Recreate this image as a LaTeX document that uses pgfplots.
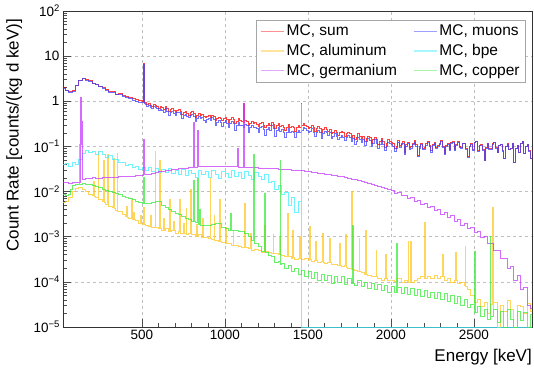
\documentclass[border=0pt]{standalone}
\usepackage{pgfplots}
\pgfplotsset{compat=1.18}
\usepackage{pgfplotstable}
\usepackage{fontspec}
\setmainfont{Liberation Sans}

% power-of-ten tick labels in the text font
\newcommand{\pw}[1]{10\raisebox{0.75ex}{\fontsize{9.5}{10}\selectfont #1}}

\definecolor{cSum}{rgb}{1,0,0}
\definecolor{cMu}{rgb}{0.25,0.25,1}
\definecolor{cAl}{rgb}{1,0.78,0.15}
\definecolor{cBpe}{rgb}{0.25,0.93,1}
\definecolor{cGe}{rgb}{0.78,0.22,1}
\definecolor{cCu}{rgb}{0.22,0.92,0.22}
% pale tones for the legend samples
\definecolor{lSum}{rgb}{1,0.42,0.42}
\definecolor{lMu}{rgb}{0.5,0.5,1}
\definecolor{lAl}{rgb}{1,0.86,0.5}
\definecolor{lBpe}{rgb}{0.55,0.96,1}
\definecolor{lGe}{rgb}{0.86,0.55,1}
\definecolor{lCu}{rgb}{0.55,0.95,0.55}

% simulated spectra, bin start energy [keV] and rate [counts/(kg d keV)]
\pgfplotstableread{
E sum mu
20 2.00 1.95
40 1.79 1.73
60 1.62 1.57
80 1.71 1.66
100 2.27 2.20
120 2.92 2.84
140 3.30 3.17
160 3.08 2.98
180 2.88 2.79
200 2.55 2.46
220 2.42 2.33
240 2.19 2.10
260 2.07 1.98
280 1.86 1.78
300 1.68 1.60
320 1.66 1.57
340 1.46 1.39
360 1.50 1.42
380 1.37 1.29
400 1.31 1.22
420 1.24 1.16
440 1.15 1.07
460 1.11 1.02
480 1.03 0.96
500 1.02 0.94
510 7.10 6.60
514 0.97 0.90
520 0.93 0.85
530 0.86 0.78
540 0.90 0.81
550 0.82 0.74
560 0.78 0.70
570 0.84 0.76
580 0.83 0.74
590 0.76 0.68
600 0.71 0.62
610 0.76 0.67
620 0.72 0.64
630 0.66 0.58
640 0.77 0.68
650 0.69 0.61
660 0.60 0.50
670 0.65 0.57
680 0.69 0.61
690 0.62 0.54
700 0.58 0.49
710 0.64 0.56
720 0.66 0.58
730 0.59 0.51
740 0.51 0.41
750 0.57 0.49
760 0.60 0.52
770 0.55 0.47
780 0.50 0.43
790 0.56 0.49
800 0.59 0.51
810 0.54 0.46
820 0.45 0.36
830 0.49 0.42
840 0.54 0.47
850 0.50 0.42
860 0.51 0.43
870 0.46 0.38
880 0.43 0.34
890 0.47 0.40
900 0.49 0.41
910 0.44 0.37
920 0.50 0.43
930 0.46 0.39
940 0.38 0.29
950 0.42 0.35
960 0.45 0.38
970 0.41 0.34
980 0.37 0.28
990 0.41 0.34
1000 0.44 0.37
1010 0.40 0.33
1020 0.35 0.27
1030 0.39 0.32
1040 0.43 0.36
1050 0.39 0.32
1060 0.32 0.23
1070 0.36 0.29
1080 0.41 0.34
1090 0.37 0.30
1100 0.36 0.29
1110 0.34 0.27
1114 0.92 0.27
1118 0.34 0.27
1120 0.38 0.31
1130 0.36 0.29
1140 0.29 0.21
1150 0.33 0.27
1160 0.36 0.30
1170 0.32 0.26
1180 0.34 0.27
1190 0.31 0.25
1200 0.28 0.20
1210 0.32 0.26
1220 0.34 0.28
1230 0.30 0.24
1240 0.26 0.18
1250 0.30 0.24
1260 0.33 0.27
1270 0.29 0.23
1280 0.35 0.29
1290 0.31 0.25
1300 0.25 0.17
1310 0.29 0.23
1320 0.32 0.26
1330 0.28 0.22
1340 0.30 0.24
1350 0.26 0.20
1360 0.23 0.16
1370 0.27 0.21
1380 0.31 0.25
1390 0.27 0.21
1400 0.28 0.22
1410 0.26 0.20
1420 0.22 0.16
1430 0.26 0.20
1440 0.29 0.23
1450 0.27 0.21
1458 0.91 0.21
1462 0.29 0.23
1470 0.32 0.27
1480 0.30 0.25
1490 0.28 0.23
1500 0.25 0.20
1510 0.27 0.22
1520 0.30 0.25
1530 0.26 0.21
1540 0.22 0.17
1550 0.25 0.20
1560 0.28 0.23
1570 0.25 0.20
1580 0.20 0.15
1590 0.24 0.19
1600 0.26 0.22
1610 0.24 0.20
1620 0.22 0.18
1630 0.24 0.20
1640 0.19 0.15
1650 0.21 0.17
1660 0.23 0.19
1670 0.21 0.17
1680 0.18 0.14
1690 0.20 0.16
1700 0.22 0.18
1710 0.20 0.16
1720 0.17 0.135
1730 0.19 0.155
1740 0.21 0.175
1750 0.19 0.155
1760 0.16 0.13
1770 0.18 0.15
1780 0.14 0.11
1790 0.16 0.13
1800 0.19 0.16
1810 0.17 0.14
1820 0.15 0.125
1830 0.17 0.145
1840 0.13 0.108
1850 0.15 0.128
1860 0.17 0.148
1870 0.16 0.138
1880 0.12 0.10
1890 0.14 0.12
1900 0.16 0.14
1910 0.14 0.12
1920 0.11 0.092
1930 0.13 0.112
1940 0.15 0.133
1950 0.13 0.113
1960 0.095 0.081
1970 0.115 0.10
1980 0.14 0.125
1990 0.13 0.115
2000 0.125 0.112
2010 0.115 0.102
2020 0.09 0.079
2030 0.10 0.089
2040 0.135 0.123
2050 0.105 0.094
2060 0.12 0.109
2070 0.13 0.119
2080 0.075 0.067
2090 0.11 0.101
2100 0.125 0.115
2110 0.095 0.087
2120 0.10 0.092
2130 0.12 0.112
2140 0.135 0.126
2150 0.11 0.102
2160 0.065 0.059
2170 0.10 0.093
2180 0.12 0.112
2190 0.09 0.084
2200 0.095 0.088
2210 0.115 0.108
2220 0.13 0.122
2230 0.105 0.098
2240 0.08 0.074
2250 0.11 0.104
2260 0.125 0.118
2270 0.095 0.089
2280 0.105 0.099
2290 0.12 0.114
2300 0.135 0.128
2310 0.10 0.095
2320 0.07 0.066
2330 0.105 0.10
2340 0.115 0.11
2350 0.085 0.081
2360 0.125 0.12
2370 0.13 0.125
2380 0.085 0.081
2390 0.11 0.106
2400 0.13 0.126
2410 0.10 0.097
2420 0.095 0.092
2430 0.12 0.117
2440 0.12 0.117
2450 0.09 0.088
2460 0.06 0.058
2470 0.10 0.098
2480 0.115 0.112
2490 0.085 0.083
2500 0.125 0.122
2510 0.13 0.127
2520 0.08 0.078
2530 0.105 0.103
2540 0.11 0.108
2550 0.085 0.083
2560 0.05 0.049
2570 0.095 0.093
2580 0.12 0.118
2590 0.09 0.088
2600 0.09 0.088
2610 0.115 0.113
2620 0.125 0.123
2630 0.095 0.093
2640 0.075 0.074
2650 0.105 0.104
2660 0.11 0.109
2670 0.08 0.079
2680 0.055 0.054
2690 0.10 0.099
2700 0.115 0.114
2710 0.085 0.084
2720 0.09 0.089
2730 0.12 0.119
2740 0.045 0.045
2750 0.09 0.089
2760 0.105 0.104
2770 0.075 0.074
2780 0.12 0.119
2790 0.13 0.129
2800 0.07 0.069
2810 0.10 0.099
2820 0.11 0.109
2830 0.08 0.079
2840 0.055 0.055
2850 0.10 0.099
2860 0.10 0.099
}\tabSum

\pgfplotstableread{
E v
20 0.0058
40 0.0062
60 0.0074
80 0.0100
100 0.0118
120 0.0122
140 0.0112
160 0.0101
180 0.0089
200 0.0081
210 0.0166
214 0.0079
220 0.0074
236 0.078
240 0.0067
260 0.0061
268 0.050
272 0.0058
280 0.0052
294 0.066
298 0.0050
300 0.0047
320 0.0045
328 0.055
332 0.0043
340 0.0038
350 0.070
354 0.0037
360 0.0036
380 0.0031
400 0.0028
408 0.0047
412 0.0027
420 0.0025
438 0.0066
442 0.0024
450 0.0035
454 0.0024
460 0.0023
480 0.0020
490 0.0030
494 0.0020
500 0.0019
510 0.0045
514 0.0019
520 0.0018
540 0.0017
552 0.0030
556 0.0017
560 0.0016
580 0.078
584 0.0016
600 0.0015
608 0.050
612 0.0015
620 0.0014
630 0.0026
634 0.0014
640 0.0015
660 0.0013
668 0.0066
672 0.0013
680 0.0014
690 0.0022
694 0.0014
700 0.0012
720 0.0013
726 0.0066
730 0.0012
740 0.0012
750 0.0020
754 0.0012
760 0.0012
766 0.0043
770 0.0011
780 0.0012
794 0.011
798 0.0011
800 0.0011
820 0.0010
830 0.0019
834 0.0010
840 0.0011
860 0.00098
864 0.0026
868 0.00098
880 0.00095
900 0.00092
910 0.020
914 0.00090
920 0.00088
934 0.0030
938 0.00085
940 0.00085
960 0.00080
968 0.0066
972 0.00078
980 0.00076
1000 0.00072
1002 0.0016
1006 0.00072
1020 0.00070
1040 0.00066
1050 0.0014
1054 0.00066
1060 0.00064
1080 0.00060
1100 0.00058
1120 0.0056
1124 0.00057
1140 0.00055
1156 0.0012
1160 0.00050
1180 0.00052
1200 0.00049
1220 0.00046
1238 0.0018
1242 0.00047
1260 0.00044
1280 0.00042
1290 0.0011
1294 0.00042
1300 0.00043
1320 0.00040
1330 0.0010
1334 0.00040
1340 0.00038
1360 0.00037
1376 0.0033
1380 0.00036
1400 0.00034
1408 0.0014
1412 0.00035
1420 0.00032
1440 0.00033
1448 0.0010
1452 0.00033
1460 0.00031
1480 0.00033
1500 0.00030
1508 0.0017
1512 0.00031
1520 0.00029
1540 0.00030
1548 0.0008
1552 0.00030
1560 0.00027
1580 0.00028
1588 0.0012
1592 0.00027
1600 0.00026
1620 0.00027
1630 0.0009
1634 0.00027
1640 0.00024
1660 0.00025
1680 0.00023
1690 0.0007
1694 0.00023
1700 0.00022
1720 0.00023
1728 0.0011
1732 0.00021
1740 0.00020
1760 0.00019
1764 0.010
1768 0.00019
1780 0.00018
1800 0.00017
1808 0.0009
1812 0.00017
1820 0.00016
1840 0.00015
1846 0.0014
1850 0.00015
1860 0.00014
1880 0.00013
1900 0.00013
1910 0.0005
1914 0.00013
1920 0.00012
1940 0.00011
1960 0.00012
1968 0.0004
1972 0.00012
1980 0.00011
2000 0.00011
2020 0.000105
2040 0.00012
2060 0.00010
2080 0.00011
2100 0.00010
2104 0.00077
2108 0.00010
2118 0.00077
2122 0.00010
2140 0.00011
2160 0.00012
2180 0.00013
2200 0.00012
2204 0.0021
2208 0.00012
2220 0.00013
2240 0.00012
2260 0.00014
2280 0.00012
2300 0.00013
2310 0.0004
2314 0.00013
2320 0.00011
2340 0.00012
2360 0.00010
2380 0.00011
2390 0.00045
2394 0.00011
2400 0.000095
2420 0.00010
2440 0.000085
2446 0.0006
2450 0.00008
2460 0.00007
2480 0.00005
2500 0.000035
2520 0.00004
2540 0.000028
2560 0.000035
2580 0.00002
2600 0.000032
2612 0.0045
2616 0.000025
2620 0.000035
2640 0.00001
2660 0.00003
2680 0.000022
2700 0.000038
2720 0.000025
2740 0.00001
2760 0.00003
2780 0.000028
2800 0.00002
2820 0.000033
2840 0.000022
2860 0.000022
}\tabAl

\pgfplotstableread{
E v
20 0.040
40 0.043
60 0.036
80 0.045
100 0.040
120 0.052
140 0.072
160 0.080
180 0.075
200 0.078
220 0.068
240 0.076
260 0.066
280 0.058
300 0.064
320 0.052
340 0.053
360 0.045
380 0.044
400 0.038
420 0.040
440 0.034
460 0.037
480 0.031
500 0.035
520 0.030
540 0.034
560 0.028
580 0.032
600 0.026
620 0.031
640 0.027
660 0.032
680 0.025
700 0.030
720 0.024
740 0.031
760 0.023
780 0.029
800 0.025
820 0.021
840 0.029
860 0.024
880 0.028
900 0.021
920 0.029
940 0.024
960 0.020
980 0.028
1000 0.025
1020 0.021
1040 0.029
1060 0.022
1080 0.027
1100 0.020
1120 0.028
1140 0.023
1160 0.019
1180 0.027
1200 0.022
1220 0.019
1240 0.024
1260 0.016
1280 0.017
1300 0.011
1320 0.014
1340 0.0085
1360 0.0095
1380 0.0050
1400 0.0075
1420 0.0035
1440 0.0062
1458 0.85
1462 0.00001
2860 0.00001
}\tabBpe

\pgfplotstableread{
E v
20 0.0158
40 0.0161
60 0.0154
80 0.0157
100 0.0161
120 0.0163
132 1.20
136 0.11
140 0.36
144 0.0190
160 0.0192
180 0.0198
200 0.0207
220 0.0200
240 0.0197
260 0.0203
280 0.0205
300 0.0209
320 0.0208
340 0.0211
360 0.0212
380 0.0216
400 0.0218
420 0.0221
440 0.0222
460 0.0227
480 0.0229
500 0.0233
510 0.14
514 0.0235
520 0.0238
540 0.0246
560 0.0254
580 0.0266
600 0.0274
620 0.0284
640 0.0291
660 0.0301
680 0.0307
700 0.0316
720 0.0321
740 0.0331
760 0.0334
780 0.0343
800 0.0346
810 0.34
814 0.0350
820 0.0352
834 0.23
838 0.0356
840 0.0357
860 0.0363
880 0.0364
900 0.0368
920 0.0364
940 0.0369
960 0.0362
980 0.0363
1000 0.0359
1020 0.0358
1040 0.0354
1060 0.0354
1076 0.090
1080 0.0349
1100 0.0349
1114 0.91
1118 0.0346
1120 0.0345
1140 0.0344
1160 0.0339
1180 0.0339
1200 0.0335
1220 0.0334
1240 0.0329
1260 0.0328
1280 0.0323
1300 0.0321
1320 0.0316
1340 0.0314
1360 0.0309
1380 0.0307
1400 0.0301
1420 0.0298
1440 0.0292
1460 0.0289
1480 0.0282
1500 0.0279
1520 0.0271
1540 0.0267
1560 0.0259
1580 0.0255
1600 0.0246
1620 0.0241
1640 0.0233
1660 0.0228
1680 0.0219
1700 0.0214
1720 0.0205
1740 0.0200
1760 0.0191
1780 0.0186
1800 0.0177
1820 0.0171
1840 0.0161
1860 0.0156
1880 0.0145
1900 0.0140
1920 0.0130
1940 0.0125
1960 0.0116
1980 0.0111
2000 0.0108
2020 0.0093
2040 0.0096
2060 0.0081
2080 0.0084
2100 0.0071
2120 0.0074
2140 0.0061
2160 0.0064
2180 0.0053
2200 0.0055
2220 0.0045
2240 0.0047
2260 0.0038
2280 0.0041
2300 0.0032
2320 0.0034
2340 0.0027
2360 0.0029
2380 0.0022
2400 0.0024
2420 0.0018
2440 0.0020
2460 0.0015
2480 0.0016
2500 0.00125
2520 0.00130
2540 0.00095
2560 0.00100
2580 0.00072
2600 0.00073
2620 0.00050
2640 0.00051
2660 0.00033
2680 0.00034
2700 0.00020
2720 0.00022
2740 0.00011
2760 0.00014
2780 0.000068
2800 0.000075
2820 0.000030
2840 0.000026
2860 0.000026
}\tabGe

\pgfplotstableread{
E v
20 0.0089
40 0.0083
60 0.0085
70 0.0112
80 0.0138
100 0.0145
120 0.0148
122 0.11
126 0.0148
140 0.0149
160 0.0147
180 0.0145
200 0.0138
220 0.0131
240 0.0121
260 0.0114
280 0.0106
300 0.0100
320 0.0095
340 0.0090
360 0.0086
380 0.0080
400 0.0074
420 0.0070
440 0.0066
460 0.0062
480 0.0057
500 0.0054
510 0.021
514 0.0054
520 0.0054
540 0.0055
560 0.0058
580 0.0060
600 0.0060
620 0.0050
640 0.0045
660 0.0040
680 0.0037
700 0.0033
720 0.0031
740 0.0028
760 0.0026
780 0.0024
800 0.0022
810 0.018
814 0.0022
820 0.0021
834 0.020
838 0.0020
840 0.0019
846 0.0040
850 0.0018
860 0.0018
880 0.0018
900 0.0018
920 0.0019
940 0.0020
960 0.0020
980 0.0016
1000 0.0015
1020 0.0014
1034 0.0033
1038 0.0014
1040 0.0014
1060 0.0014
1080 0.0013
1100 0.0013
1120 0.0012
1140 0.0010
1160 0.00085
1172 0.066
1176 0.00075
1180 0.00070
1200 0.00062
1220 0.00048
1238 0.0090
1242 0.00046
1260 0.00038
1280 0.00036
1300 0.00027
1320 0.00028
1332 0.050
1336 0.00024
1340 0.00026
1360 0.00020
1380 0.00023
1400 0.00017
1420 0.00020
1440 0.00015
1460 0.00018
1480 0.00013
1500 0.00017
1520 0.00012
1540 0.00016
1560 0.00011
1580 0.00015
1600 0.00011
1620 0.00014
1640 0.000095
1660 0.00013
1680 0.000098
1700 0.00013
1720 0.000088
1740 0.00012
1760 0.000092
1770 0.0018
1774 0.000092
1780 0.000085
1800 0.00011
1820 0.000078
1840 0.00010
1860 0.000072
1880 0.000095
1900 0.000068
1920 0.000090
1940 0.000064
1960 0.000085
1980 0.000060
2000 0.000080
2020 0.000058
2034 0.00070
2038 0.000058
2040 0.000076
2060 0.000055
2080 0.000074
2100 0.000052
2120 0.000071
2140 0.000050
2160 0.000068
2180 0.000047
2200 0.000064
2220 0.000045
2240 0.000060
2260 0.000043
2280 0.000058
2300 0.000040
2320 0.000055
2340 0.000037
2360 0.000050
2380 0.000034
2400 0.000047
2420 0.000030
2440 0.000042
2460 0.000027
2480 0.000032
2500 0.000021
2504 0.00047
2508 0.000021
2520 0.000029
2540 0.000017
2560 0.000025
2580 0.000015
2598 0.0010
2602 0.000017
2620 0.000024
2640 0.000013
2660 0.000022
2680 0.00001
2700 0.000024
2720 0.000015
2740 0.00001
2760 0.000022
2780 0.000014
2800 0.000021
2820 0.00001
2840 0.000019
2860 0.000019
}\tabCu

\begin{document}
\begin{tikzpicture}
\begin{axis}[
  name=main,
  scale only axis, width=469pt, height=316pt,
  ymode=log, xmin=25, xmax=2850, ymin=1e-5, ymax=100,
  axis line style={black!80, line width=0.8pt},
  tick align=inside, tick pos=left,
  major tick length=8pt, minor tick length=4pt,
  tick style={black!70, line width=0.6pt},
  xtick={500,1000,1500,2000,2500},
  xticklabels={500,1000,1500,2000,2500},
  minor x tick num=4,
  ytick={1e-5,1e-4,1e-3,1e-2,1e-1,1,10,100},
  yticklabels={\pw{−5},\pw{−4},\pw{−3},\pw{−2},\pw{−1},1,10,\pw{2}},
  grid=major,
  major grid style={gray!50, dash pattern=on 3pt off 3pt, line width=0.6pt},
  ticklabel style={font=\fontsize{13.5}{14}\selectfont},
  xlabel={Energy [keV]},
  ylabel={Count Rate [counts/(kg d keV)]},
  label style={font=\fontsize{17}{18}\selectfont},
  xlabel style={at={(axis description cs:1,0)}, anchor=north east, yshift=-22pt, inner sep=0pt},
  ylabel style={at={(axis description cs:-0.1215,0.975)}, anchor=north east, inner sep=0pt},
  legend columns=2, legend cell align=left,
  legend style={at={(0.987,0.972)}, anchor=north east, draw=gray!70, line width=0.6pt,
    font=\fontsize{15.5}{17}\selectfont, inner xsep=4pt, inner ysep=3pt, row sep=3pt,
    /tikz/every even column/.append style={column sep=14pt}},
  legend image code/.code={\path[draw=#1, line width=1.5pt] (0pt,0pt) -- (23pt,0pt);},
  every axis plot/.append style={const plot, line width=0.7pt, opacity=0.75},
]
\addlegendimage{lSum}
\addlegendentry{MC, sum}
\addlegendimage{lMu}
\addlegendentry{MC, muons}
\addlegendimage{lAl}
\addlegendentry{MC, aluminum}
\addlegendimage{lBpe}
\addlegendentry{MC, bpe}
\addlegendimage{lGe}
\addlegendentry{MC, germanium}
\addlegendimage{lCu}
\addlegendentry{MC, copper}

\addplot[cSum, forget plot] table[x=E, y=sum] {\tabSum};
\addplot[cMu, forget plot] table[x=E, y=mu] {\tabSum};
\addplot[cAl, forget plot] table[x=E, y=v] {\tabAl};
\addplot[cBpe, forget plot] table[x=E, y=v] {\tabBpe};
\addplot[cGe, forget plot] table[x=E, y=v] {\tabGe};
\addplot[cCu, forget plot] table[x=E, y=v] {\tabCu};
\end{axis}
\pgfresetboundingbox
\path[use as bounding box] ([xshift=-63pt,yshift=-47pt]main.south west)
  rectangle ([xshift=2pt,yshift=11pt]main.north east);
\end{tikzpicture}
\end{document}
